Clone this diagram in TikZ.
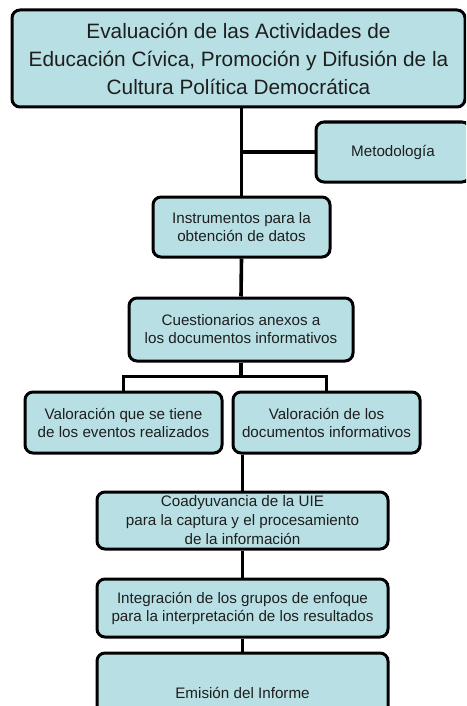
\documentclass[tikz,border=0pt]{standalone}
\usepackage{fontspec}
\setmainfont{Liberation Sans}
\usepackage{xcolor}
\usepackage{tikz}
\usetikzlibrary{positioning,calc}
\definecolor{cajaazul}{HTML}{B8E0E4}
\definecolor{textogris}{HTML}{1E1E1E}

\begin{document}
\begin{tikzpicture}[x=1pt, y=-1pt,
  every node/.style={align=center, text=textogris, font=\fontsize{15.2}{18}\selectfont},
  caja/.style={draw=black, line width=3pt, rounded corners=8pt, fill=cajaazul, inner sep=1pt},
  enlace/.style={draw=black, line width=3.6pt}]
  \useasboundingbox (0,0) rectangle (466,706);
  \clip (0,0) rectangle (466,706);
  \node[caja, minimum width=453pt, minimum height=97pt, font=\fontsize{20.8}{28}\selectfont] (titulo) at (238.5,58.5) {Evaluación de las Actividades de\\Educación Cívica, Promoción y Difusión de la\\Cultura Política Democrática};
  \node[caja, minimum width=154pt, minimum height=60pt] (metodo) at (393,152) {Metodología};
  \node[caja, minimum width=177pt, minimum height=60pt] (instr) at (241.5,227) {Instrumentos para la\\obtención de datos};
  \node[caja, minimum width=224pt, minimum height=63pt] (cuest) at (241,329.5) {Cuestionarios anexos a\\los documentos informativos};
  \node[caja, minimum width=197pt, minimum height=61pt] (valeve) at (123.5,422.5) {Valoración que se tiene\\de los eventos realizados};
  \node[caja, minimum width=187pt, minimum height=61pt] (valdoc) at (326.5,422.5) {Valoración de los\\documentos informativos};
  \node[caja, minimum width=291pt, minimum height=57pt, font=\fontsize{15.2}{19}\selectfont] (coady) at (242.5,520.5) {Coadyuvancia de la UIE\\para la captura y el procesamiento\\de la información};
  \node[caja, minimum width=291pt, minimum height=58pt] (integ) at (242.5,608) {Integración de los grupos de enfoque\\para la interpretación de los resultados};
  \node[caja, minimum width=291pt, minimum height=80pt] (emision) at (242.5,693) {Emisión del Informe};

  % conectores
  \draw[enlace] (titulo.south -| instr.north) -- (instr.north);
  \draw[enlace] (metodo.west) -- (metodo.west -| instr.north);
  \draw[enlace] (instr.south) -- (cuest.north);
  \draw[enlace] (cuest.south) -- ++(0,14) coordinate (rama);
  \draw[enlace] (valeve.north) |- (rama) -| (valdoc.north);
  \draw[enlace] (coady.north |- valdoc.south) -- (coady.north);
  \draw[enlace] (coady.south) -- (integ.north);
  \draw[enlace] (integ.south) -- (emision.north);
\end{tikzpicture}
\end{document}
